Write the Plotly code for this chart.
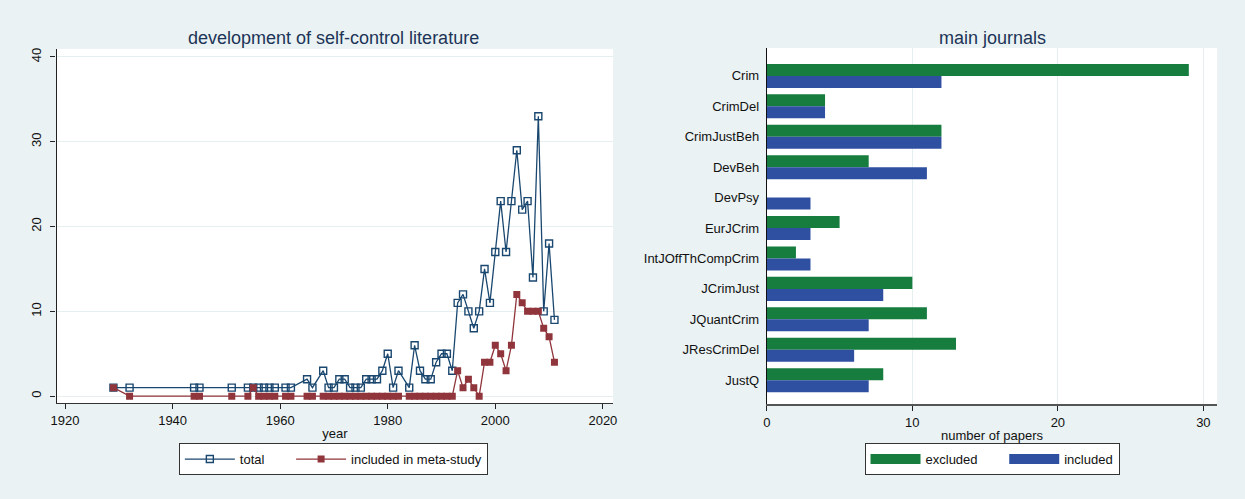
import plotly.graph_objects as go

# ---------------- data ----------------
years = [1929, 1932, 1944, 1945, 1951, 1954, 1955, 1956, 1957, 1958, 1959,
         1961, 1962, 1965, 1966, 1968, 1969, 1970, 1971, 1972, 1973, 1974,
         1975, 1976, 1977, 1978, 1979, 1980, 1981, 1982, 1984, 1985, 1986,
         1987, 1988, 1989, 1990, 1991, 1992, 1993, 1994, 1995, 1996, 1997,
         1998, 1999, 2000, 2001, 2002, 2003, 2004, 2005, 2006, 2007, 2008,
         2009, 2010, 2011]
total = [1, 1, 1, 1, 1, 1, 1, 1, 1, 1, 1,
         1, 1, 2, 1, 3, 1, 1, 2, 2, 1, 1,
         1, 2, 2, 2, 3, 5, 1, 3, 1, 6, 3,
         2, 2, 4, 5, 5, 3, 11, 12, 10, 8, 10,
         15, 11, 17, 23, 17, 23, 29, 22, 23, 14, 33,
         10, 18, 9]
included_meta = [1, 0, 0, 0, 0, 0, 1, 0, 0, 0, 0,
                 0, 0, 0, 0, 0, 0, 0, 0, 0, 0, 0,
                 0, 0, 0, 0, 0, 0, 0, 0, 0, 0, 0,
                 0, 0, 0, 0, 0, 0, 3, 1, 2, 1, 0,
                 4, 4, 6, 5, 3, 6, 12, 11, 10, 10, 10,
                 8, 7, 4]

journals = ["Crim", "CrimDel", "CrimJustBeh", "DevBeh", "DevPsy", "EurJCrim",
            "IntJOffThCompCrim", "JCrimJust", "JQuantCrim", "JResCrimDel", "JustQ"]
excluded = [29, 4, 12, 7, 0, 5, 2, 10, 11, 13, 8]
included = [12, 4, 12, 11, 3, 3, 3, 8, 7, 6, 7]

left_ticks_x = [1920, 1940, 1960, 1980, 2000, 2020]
left_ticks_y = [0, 10, 20, 30, 40]
right_ticks_x = [0, 10, 20, 30]

# ---------------- styling ----------------
W, H = 1245, 499
BG = "#eaf2f3"
GRID = "#e6eff0"
NAVY = "#1a476f"
MAROON = "#90353b"
GREEN = "#167d3f"
BLUE = "#2f4fa0"
FONT = "Liberation Sans"
TITLE_C = "#1c3457"
PAD = "\u00a0" * 6

def px_x(v):
    return v / W

def px_y(v):
    return 1 - v / H

fig = go.Figure()

fig.add_trace(go.Scatter(
    x=years, y=total, mode="lines+markers", name="total" + PAD,
    line=dict(color=NAVY, width=1.3),
    marker=dict(symbol="square-open", size=7, color=NAVY, line=dict(width=1.4, color=NAVY)),
    xaxis="x", yaxis="y", legend="legend",
))
fig.add_trace(go.Scatter(
    x=years, y=included_meta, mode="lines+markers", name="included in meta-study",
    line=dict(color=MAROON, width=1.3),
    marker=dict(symbol="square", size=7, color=MAROON),
    xaxis="x", yaxis="y", legend="legend",
))

fig.add_trace(go.Bar(
    y=journals, x=excluded, orientation="h", name="excluded",
    marker=dict(color=GREEN, line=dict(width=0)),
    xaxis="x2", yaxis="y2", showlegend=False,
))
fig.add_trace(go.Bar(
    y=journals, x=included, orientation="h", name="included",
    marker=dict(color=BLUE, line=dict(width=0)),
    xaxis="x2", yaxis="y2", showlegend=False,
))
# legend entries for the bars (wide rectangles)
fig.add_trace(go.Scatter(
    x=[None], y=[None], mode="lines", name="excluded" + PAD,
    line=dict(color=GREEN, width=13), xaxis="x2", yaxis="y2", legend="legend2",
))
fig.add_trace(go.Scatter(
    x=[None], y=[None], mode="lines", name="included",
    line=dict(color=BLUE, width=13), xaxis="x2", yaxis="y2", legend="legend2",
))

axis_font = dict(family=FONT, size=13, color="#111111")

fig.update_layout(
    width=W, height=H,
    paper_bgcolor=BG, plot_bgcolor="white",
    margin=dict(l=0, r=0, t=0, b=0),
    font=dict(family=FONT, size=13, color="#111111"),
    barmode="group", bargap=0.21, bargroupgap=0,
    xaxis=dict(
        domain=[px_x(51), px_x(612)], range=[1918.43, 2021.9],
        tickvals=left_ticks_x, ticks="outside", ticklen=5, tickcolor="#222",
        showgrid=False, zeroline=False, showline=True, linecolor="#333", linewidth=1.2,
        tickfont=axis_font,
        title=dict(text="year", font=dict(family=FONT, size=13, color="#111"), standoff=2),
        anchor="y",
    ),
    yaxis=dict(
        domain=[px_y(403), px_y(48)], range=[-0.83, 40.95],
        tickvals=left_ticks_y, ticks="outside", ticklen=5, tickcolor="#222",
        tickangle=-90, showgrid=True, gridcolor=GRID, gridwidth=1.2,
        zeroline=False, showline=True, linecolor="#222", linewidth=1.2,
        tickfont=axis_font, anchor="x", ticklabelstandoff=4,
    ),
    xaxis2=dict(
        domain=[px_x(767), px_x(1221)], range=[0, 30.95],
        tickvals=right_ticks_x, ticks="outside", ticklen=5, tickcolor="#222",
        showgrid=True, gridcolor=GRID, gridwidth=1.2,
        zeroline=False, showline=True, linecolor="#555", linewidth=1.5,
        tickfont=axis_font,
        title=dict(text="number of papers", font=dict(family=FONT, size=13, color="#111"), standoff=2),
        anchor="y2",
    ),
    yaxis2=dict(
        domain=[px_y(404), px_y(47)],
        categoryorder="array", categoryarray=journals,
        range=[10.79, -0.92], ticks="", showgrid=False, zeroline=False,
        showline=True, linecolor="#111", linewidth=1.2,
        tickfont=axis_font, anchor="x2", ticklabelstandoff=4,
    ),
    legend=dict(
        orientation="h", x=px_x(330), xanchor="center", y=px_y(443), yanchor="top",
        bgcolor="white", bordercolor="#333", borderwidth=1,
        font=dict(family=FONT, size=13, color="#111"), itemwidth=50,
        tracegroupgap=0,
    ),
    legend2=dict(
        orientation="h", x=px_x(994), xanchor="center", y=px_y(443), yanchor="top",
        bgcolor="white", bordercolor="#333", borderwidth=1,
        font=dict(family=FONT, size=13, color="#111"), itemwidth=50,
    ),
    annotations=[
        dict(text="development of self-control literature", x=px_x(330), y=px_y(37),
             xref="paper", yref="paper", showarrow=False, xanchor="center", yanchor="middle",
             font=dict(family=FONT, size=18, color=TITLE_C)),
        dict(text="main journals", x=px_x(994), y=px_y(37),
             xref="paper", yref="paper", showarrow=False, xanchor="center", yanchor="middle",
             font=dict(family=FONT, size=18, color=TITLE_C)),
    ],
)

fig.write_html(
    "out.html",
    config={"displayModeBar": False},
    post_script="document.body.style.margin='0';document.body.style.background='%s';" % BG,
)
